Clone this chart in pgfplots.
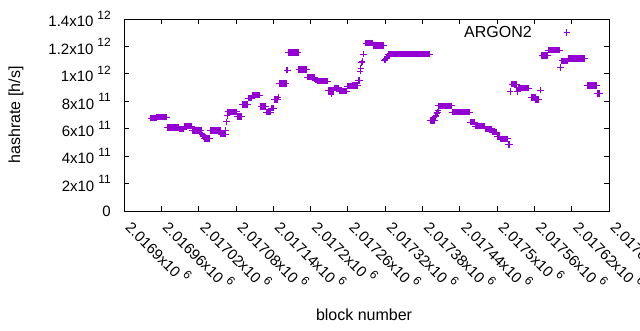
\documentclass[border=0pt]{standalone}
\usepackage{pgfplots}
\pgfplotsset{compat=1.18}
\usepackage{fontspec}
\setmainfont{Liberation Sans}
\definecolor{argon}{HTML}{9400D3}
\newcommand{\gs}[2]{#1x10\hspace{4pt}\raisebox{7.5pt}{\fontsize{12}{12}\selectfont #2}}
\begin{document}
\begin{tikzpicture}[font=\fontsize{15}{18}\selectfont]
\begin{axis}[
  scale only axis, width=485pt, height=192pt,
  at={(124pt,119pt)}, anchor=south west,
  x coord trafo/.code={\edef\pgfmathresult{\the\numexpr#1-2016900\relax}},
  xmin=2016900, xmax=2017680, ymin=0, ymax=1.4e12,
  scaled ticks=false,
  axis line style={line width=0.8pt},
  tick style={line width=0.8pt, black},
  tick align=inside, major tick length=5pt,
  xtick={2016900,2016960,2017020,2017080,2017140,2017200,2017260,2017320,2017380,2017440,2017500,2017560,2017620,2017680},
  xticklabels={\gs{2.0169}{6},\gs{2.01696}{6},\gs{2.01702}{6},\gs{2.01708}{6},\gs{2.01714}{6},\gs{2.0172}{6},\gs{2.01726}{6},\gs{2.01732}{6},\gs{2.01738}{6},\gs{2.01744}{6},\gs{2.0175}{6},\gs{2.01756}{6},\gs{2.01762}{6},\gs{2.01768}{6}},
  ytick={0,2e11,4e11,6e11,8e11,1e12,1.2e12,1.4e12},
  yticklabels={0\hspace{3pt},\gs{2}{11},\gs{4}{11},\gs{6}{11},\gs{8}{11},\gs{1}{12},\gs{1.2}{12},\gs{1.4}{12}},
  yticklabel style={anchor=east, inner sep=0pt, xshift=-13pt},
  xticklabel style={xshift=0.5pt, yshift=-17.5pt, rotate=-45, anchor=base west, inner sep=0pt},
  xlabel={block number}, ylabel={hashrate [h/s]},
  label style={font=\fontsize{16}{19}\selectfont},
  xlabel style={at={(axis description cs:0.495,-0.542)}, anchor=center},
  ylabel style={at={(axis description cs:-0.2227,0.5)}, anchor=center},
  legend plot pos=right,
  legend image code/.code={\path[draw=none, fill=none] (0pt,-3pt) rectangle (33pt,3pt); \draw[#1] plot coordinates {(33pt,0pt)};},
  legend style={draw=none, fill=none, inner sep=0pt, outer sep=0pt, font=\fontsize{16}{19}\selectfont, at={(axis description cs:0.9196,0.9307)}, anchor=east},
]
\addplot[only marks, mark=+, color=argon, mark size=3.2pt, line width=1pt] table {
x y
2016943 6.77e11
2016944 6.77e11
2016945 6.77e11
2016946 6.77e11
2016947 6.77e11
2016948 6.77e11
2016949 6.77e11
2016950 6.77e11
2016951 6.77e11
2016952 6.77e11
2016953 6.84e11
2016954 6.84e11
2016955 6.84e11
2016956 6.84e11
2016957 6.84e11
2016958 6.84e11
2016959 6.84e11
2016960 6.84e11
2016961 6.84e11
2016962 6.84e11
2016963 6.84e11
2016964 6.84e11
2016965 6.84e11
2016966 6.84e11
2016967 6.84e11
2016968 6.84e11
2016969 6.84e11
2016970 6.10e11
2016971 6.10e11
2016972 6.10e11
2016973 6.10e11
2016974 6.10e11
2016975 6.10e11
2016976 6.10e11
2016977 6.10e11
2016978 6.10e11
2016979 6.10e11
2016980 6.10e11
2016981 6.10e11
2016982 6.10e11
2016983 6.10e11
2016984 6.10e11
2016985 6.10e11
2016986 6.10e11
2016987 6.10e11
2016988 6.10e11
2016989 5.96e11
2016990 5.96e11
2016991 5.96e11
2016992 5.96e11
2016993 5.96e11
2016994 5.96e11
2016995 5.96e11
2016996 5.96e11
2016997 6.18e11
2016998 6.18e11
2016999 6.18e11
2017000 6.18e11
2017001 6.18e11
2017002 6.18e11
2017003 6.18e11
2017004 6.18e11
2017005 6.18e11
2017006 6.18e11
2017007 6.18e11
2017008 6.18e11
2017009 6.18e11
2017010 5.88e11
2017011 5.88e11
2017012 5.88e11
2017013 5.88e11
2017014 5.88e11
2017015 5.88e11
2017016 5.88e11
2017017 5.88e11
2017018 5.88e11
2017019 5.88e11
2017020 5.88e11
2017021 5.88e11
2017022 5.88e11
2017023 5.88e11
2017024 5.88e11
2017025 5.62e11
2017026 5.56e11
2017027 5.50e11
2017028 5.44e11
2017029 5.30e11
2017030 5.30e11
2017031 5.30e11
2017032 5.30e11
2017033 5.30e11
2017034 5.30e11
2017035 5.30e11
2017036 5.30e11
2017037 5.30e11
2017038 5.30e11
2017039 5.86e11
2017040 5.86e11
2017041 5.86e11
2017042 5.86e11
2017043 5.86e11
2017044 5.86e11
2017045 5.86e11
2017046 5.86e11
2017047 5.86e11
2017048 5.86e11
2017049 5.86e11
2017050 5.86e11
2017051 5.86e11
2017052 5.86e11
2017053 5.86e11
2017054 5.86e11
2017055 5.86e11
2017056 5.61e11
2017057 5.61e11
2017058 5.61e11
2017059 5.61e11
2017060 5.61e11
2017061 5.61e11
2017062 5.61e11
2017063 5.61e11
2017064 5.90e11
2017065 6.50e11
2017066 6.95e11
2017067 7.22e11
2017068 7.22e11
2017069 7.22e11
2017070 7.22e11
2017071 7.22e11
2017072 7.22e11
2017073 7.22e11
2017074 7.22e11
2017075 7.22e11
2017076 7.22e11
2017077 7.22e11
2017078 7.22e11
2017079 7.22e11
2017080 7.22e11
2017081 7.22e11
2017082 6.88e11
2017083 6.88e11
2017084 6.88e11
2017085 6.88e11
2017086 6.88e11
2017087 6.88e11
2017088 6.88e11
2017089 6.88e11
2017090 7.78e11
2017091 7.78e11
2017092 7.78e11
2017093 7.78e11
2017094 7.78e11
2017095 7.78e11
2017096 7.78e11
2017097 7.78e11
2017098 7.78e11
2017099 7.78e11
2017100 8.22e11
2017101 8.22e11
2017102 8.22e11
2017103 8.22e11
2017104 8.22e11
2017105 8.22e11
2017106 8.44e11
2017107 8.44e11
2017108 8.44e11
2017109 8.44e11
2017110 8.44e11
2017111 8.44e11
2017112 8.44e11
2017113 8.44e11
2017114 8.44e11
2017115 8.44e11
2017116 8.44e11
2017117 8.44e11
2017118 8.44e11
2017120 7.63e11
2017121 7.63e11
2017122 7.63e11
2017123 7.63e11
2017124 7.63e11
2017125 7.63e11
2017126 7.63e11
2017127 7.63e11
2017128 7.63e11
2017129 7.20e11
2017130 7.20e11
2017131 7.20e11
2017132 7.20e11
2017133 7.20e11
2017134 7.20e11
2017135 7.20e11
2017136 7.20e11
2017137 7.49e11
2017138 7.49e11
2017139 7.49e11
2017140 7.49e11
2017141 7.49e11
2017142 8.14e11
2017143 8.14e11
2017144 8.14e11
2017145 8.14e11
2017146 8.14e11
2017147 8.14e11
2017148 8.30e11
2017150 9.31e11
2017151 9.31e11
2017152 9.31e11
2017153 9.31e11
2017154 9.31e11
2017155 9.31e11
2017156 9.31e11
2017157 9.31e11
2017158 9.31e11
2017159 9.31e11
2017160 9.31e11
2017161 9.31e11
2017162 1.026e12
2017163 1.026e12
2017164 1.157e12
2017165 1.157e12
2017166 1.157e12
2017167 1.157e12
2017168 1.157e12
2017169 1.157e12
2017170 1.157e12
2017171 1.157e12
2017172 1.157e12
2017173 1.157e12
2017174 1.157e12
2017175 1.157e12
2017176 1.157e12
2017177 1.157e12
2017178 1.157e12
2017179 1.157e12
2017180 1.157e12
2017181 1.033e12
2017182 1.033e12
2017183 1.033e12
2017184 1.033e12
2017185 1.033e12
2017186 1.033e12
2017187 1.033e12
2017188 1.033e12
2017189 1.033e12
2017190 1.033e12
2017191 1.033e12
2017192 1.033e12
2017193 1.033e12
2017194 1.033e12
2017195 9.75e11
2017196 9.75e11
2017197 9.75e11
2017198 9.75e11
2017199 9.75e11
2017200 9.75e11
2017201 9.75e11
2017202 9.75e11
2017203 9.75e11
2017204 9.75e11
2017205 9.75e11
2017206 9.75e11
2017207 9.75e11
2017208 9.55e11
2017209 9.55e11
2017210 9.55e11
2017211 9.46e11
2017212 9.46e11
2017213 9.46e11
2017214 9.46e11
2017215 9.46e11
2017216 9.46e11
2017217 9.46e11
2017218 9.46e11
2017219 9.46e11
2017220 9.46e11
2017221 9.46e11
2017222 9.46e11
2017223 9.46e11
2017224 9.46e11
2017225 9.46e11
2017226 9.46e11
2017227 9.46e11
2017228 9.46e11
2017229 8.80e11
2017230 8.80e11
2017231 8.80e11
2017232 8.80e11
2017233 8.51e11
2017234 8.80e11
2017235 8.80e11
2017236 8.80e11
2017237 8.80e11
2017238 8.99e11
2017239 8.99e11
2017240 8.99e11
2017241 8.99e11
2017242 8.99e11
2017243 8.99e11
2017244 8.99e11
2017245 8.99e11
2017246 8.73e11
2017247 8.73e11
2017248 8.73e11
2017249 8.73e11
2017250 8.73e11
2017251 8.73e11
2017252 8.73e11
2017253 8.73e11
2017254 8.73e11
2017255 8.73e11
2017256 8.73e11
2017257 8.73e11
2017258 8.73e11
2017259 9.11e11
2017260 9.11e11
2017261 9.11e11
2017262 9.11e11
2017263 9.11e11
2017264 9.11e11
2017265 9.11e11
2017266 9.11e11
2017267 9.16e11
2017268 9.16e11
2017269 9.16e11
2017270 9.16e11
2017271 9.16e11
2017272 9.16e11
2017273 9.16e11
2017274 9.16e11
2017275 9.16e11
2017276 9.16e11
2017277 9.52e11
2017278 9.52e11
2017279 9.52e11
2017280 1.02e12
2017281 1.04e12
2017282 1.08e12
2017283 1.09e12
2017285 1.143e12
2017289 1.224e12
2017290 1.224e12
2017291 1.224e12
2017292 1.224e12
2017293 1.224e12
2017294 1.224e12
2017295 1.224e12
2017296 1.224e12
2017297 1.224e12
2017298 1.224e12
2017299 1.224e12
2017300 1.224e12
2017301 1.208e12
2017302 1.208e12
2017303 1.208e12
2017304 1.208e12
2017305 1.208e12
2017306 1.208e12
2017307 1.208e12
2017308 1.208e12
2017309 1.208e12
2017310 1.208e12
2017311 1.208e12
2017312 1.208e12
2017313 1.208e12
2017314 1.208e12
2017315 1.208e12
2017316 1.208e12
2017317 1.208e12
2017318 1.208e12
2017319 1.100e12
2017320 1.105e12
2017321 1.110e12
2017322 1.115e12
2017323 1.120e12
2017324 1.130e12
2017325 1.143e12
2017326 1.143e12
2017327 1.143e12
2017328 1.143e12
2017329 1.143e12
2017330 1.143e12
2017331 1.143e12
2017332 1.143e12
2017333 1.143e12
2017334 1.143e12
2017335 1.143e12
2017336 1.143e12
2017337 1.143e12
2017338 1.143e12
2017339 1.143e12
2017340 1.143e12
2017341 1.143e12
2017342 1.143e12
2017343 1.143e12
2017344 1.143e12
2017345 1.143e12
2017346 1.143e12
2017347 1.143e12
2017348 1.143e12
2017349 1.143e12
2017350 1.143e12
2017351 1.143e12
2017352 1.143e12
2017353 1.143e12
2017354 1.143e12
2017355 1.143e12
2017356 1.143e12
2017357 1.143e12
2017358 1.143e12
2017359 1.143e12
2017360 1.143e12
2017361 1.143e12
2017362 1.143e12
2017363 1.143e12
2017364 1.143e12
2017365 1.143e12
2017366 1.143e12
2017367 1.143e12
2017368 1.143e12
2017369 1.143e12
2017370 1.143e12
2017371 1.143e12
2017372 1.143e12
2017373 1.143e12
2017374 1.143e12
2017375 1.143e12
2017376 1.143e12
2017377 1.143e12
2017378 1.143e12
2017379 1.143e12
2017380 1.143e12
2017381 1.143e12
2017382 1.143e12
2017383 1.143e12
2017384 1.143e12
2017385 1.143e12
2017386 1.143e12
2017387 1.143e12
2017388 1.143e12
2017389 1.143e12
2017390 1.143e12
2017391 1.143e12
2017392 1.143e12
2017393 6.61e11
2017394 6.61e11
2017395 6.61e11
2017396 6.61e11
2017397 6.61e11
2017398 6.61e11
2017399 6.61e11
2017400 6.61e11
2017401 6.90e11
2017402 7.00e11
2017403 7.10e11
2017404 7.20e11
2017405 7.30e11
2017406 7.66e11
2017407 7.66e11
2017408 7.66e11
2017409 7.66e11
2017410 7.66e11
2017411 7.66e11
2017412 7.66e11
2017413 7.66e11
2017414 7.66e11
2017415 7.66e11
2017416 7.66e11
2017417 7.66e11
2017418 7.66e11
2017419 7.66e11
2017420 7.66e11
2017421 7.66e11
2017422 7.66e11
2017423 7.66e11
2017424 7.66e11
2017425 7.66e11
2017426 7.66e11
2017427 7.66e11
2017428 7.20e11
2017429 7.20e11
2017430 7.20e11
2017431 7.20e11
2017432 7.20e11
2017433 7.20e11
2017434 7.20e11
2017435 7.20e11
2017436 7.20e11
2017437 7.20e11
2017438 7.20e11
2017439 7.20e11
2017440 7.20e11
2017441 7.20e11
2017442 7.20e11
2017443 7.20e11
2017444 7.20e11
2017445 7.20e11
2017446 7.20e11
2017447 7.20e11
2017448 7.20e11
2017449 7.20e11
2017450 7.20e11
2017451 7.20e11
2017452 7.20e11
2017453 7.20e11
2017454 7.20e11
2017455 7.20e11
2017456 7.20e11
2017457 6.47e11
2017458 6.47e11
2017459 6.47e11
2017460 6.47e11
2017461 6.47e11
2017462 6.47e11
2017463 6.47e11
2017464 6.47e11
2017465 6.18e11
2017466 6.18e11
2017467 6.18e11
2017468 6.18e11
2017469 6.18e11
2017470 6.18e11
2017471 6.18e11
2017472 6.18e11
2017473 6.18e11
2017474 6.18e11
2017475 6.18e11
2017476 6.18e11
2017477 6.18e11
2017478 6.18e11
2017479 6.18e11
2017480 6.18e11
2017481 5.98e11
2017482 5.98e11
2017483 5.98e11
2017484 5.98e11
2017485 5.98e11
2017486 5.98e11
2017487 5.98e11
2017488 5.98e11
2017489 5.98e11
2017490 5.98e11
2017491 5.98e11
2017492 5.74e11
2017493 5.74e11
2017494 5.74e11
2017495 5.74e11
2017496 5.74e11
2017497 5.74e11
2017498 5.74e11
2017499 5.74e11
2017500 5.42e11
2017501 5.42e11
2017502 5.42e11
2017503 5.42e11
2017504 5.42e11
2017505 5.27e11
2017506 5.27e11
2017507 5.27e11
2017508 5.27e11
2017509 5.27e11
2017510 5.27e11
2017511 5.27e11
2017512 5.27e11
2017513 5.27e11
2017514 5.27e11
2017515 5.27e11
2017516 5.27e11
2017517 5.27e11
2017518 4.86e11
2017519 4.86e11
2017520 4.86e11
2017521 8.70e11
2017524 9.24e11
2017525 9.24e11
2017526 9.24e11
2017527 9.24e11
2017528 9.24e11
2017529 9.24e11
2017530 9.24e11
2017531 9.24e11
2017532 8.97e11
2017533 8.70e11
2017534 8.97e11
2017535 8.97e11
2017536 8.97e11
2017537 8.97e11
2017538 8.97e11
2017539 8.97e11
2017540 8.97e11
2017541 8.95e11
2017542 8.95e11
2017543 8.95e11
2017544 8.95e11
2017545 8.95e11
2017546 8.95e11
2017547 8.95e11
2017548 8.95e11
2017549 8.95e11
2017550 8.95e11
2017551 8.95e11
2017555 8.29e11
2017556 8.29e11
2017557 8.29e11
2017558 8.29e11
2017559 8.29e11
2017560 8.29e11
2017561 8.29e11
2017562 8.14e11
2017563 8.14e11
2017564 8.14e11
2017565 8.14e11
2017566 8.14e11
2017567 8.14e11
2017570 8.82e11
2017572 1.135e12
2017573 1.135e12
2017574 1.135e12
2017575 1.135e12
2017576 1.135e12
2017577 1.135e12
2017578 1.135e12
2017579 1.135e12
2017580 1.135e12
2017581 1.135e12
2017582 1.172e12
2017583 1.172e12
2017584 1.172e12
2017585 1.172e12
2017586 1.172e12
2017587 1.172e12
2017588 1.172e12
2017589 1.172e12
2017590 1.172e12
2017591 1.172e12
2017592 1.172e12
2017593 1.172e12
2017594 1.172e12
2017595 1.172e12
2017596 1.172e12
2017597 1.172e12
2017598 1.172e12
2017599 1.172e12
2017600 1.172e12
2017601 1.172e12
2017602 1.045e12
2017604 1.094e12
2017605 1.094e12
2017606 1.094e12
2017607 1.094e12
2017608 1.094e12
2017609 1.094e12
2017610 1.094e12
2017611 1.094e12
2017612 1.094e12
2017613 1.094e12
2017614 1.094e12
2017615 1.111e12
2017616 1.111e12
2017617 1.111e12
2017618 1.111e12
2017619 1.111e12
2017620 1.111e12
2017621 1.111e12
2017622 1.111e12
2017623 1.111e12
2017624 1.111e12
2017625 1.111e12
2017626 1.111e12
2017627 1.111e12
2017628 1.111e12
2017629 1.111e12
2017630 1.111e12
2017631 1.111e12
2017632 1.111e12
2017633 1.111e12
2017634 1.111e12
2017635 1.111e12
2017636 1.111e12
2017637 1.111e12
2017638 1.111e12
2017639 1.111e12
2017640 1.111e12
2017641 1.111e12
2017645 9.16e11
2017646 9.16e11
2017647 9.16e11
2017648 9.16e11
2017649 9.16e11
2017650 9.16e11
2017651 9.16e11
2017652 9.16e11
2017653 9.16e11
2017654 9.16e11
2017655 9.16e11
2017656 9.16e11
2017657 9.16e11
2017658 9.16e11
2017659 9.16e11
2017660 9.16e11
2017661 8.58e11
2017662 8.58e11
2017663 8.58e11
2017664 8.58e11
2017665 8.58e11
};
\addlegendentry{ARGON2}
\end{axis}
\pgfresetboundingbox
\useasboundingbox (0,0) rectangle (640pt,330pt);
\end{tikzpicture}
\end{document}
